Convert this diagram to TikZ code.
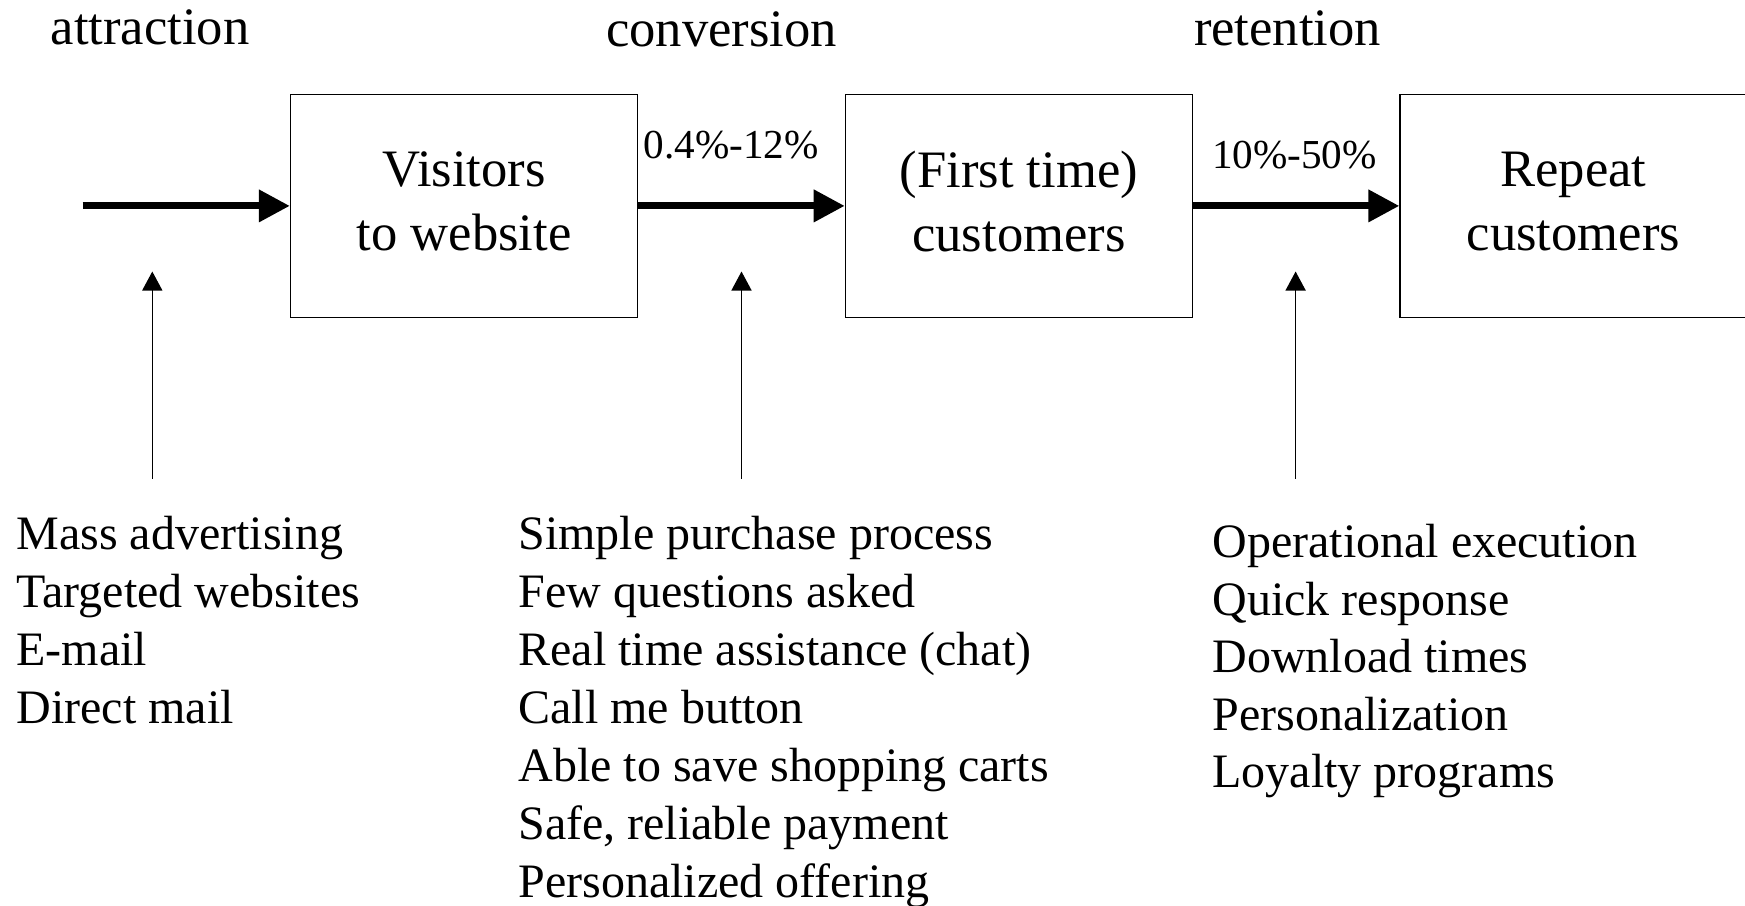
\documentclass[tikz,border=0pt]{standalone}
\usepackage{fontspec}
\setmainfont{Liberation Serif}
\usetikzlibrary{arrows.meta}

\begin{document}
\begin{tikzpicture}[x=0.5pt,y=-0.5pt,
  stage/.style={draw, line width=0.7pt, minimum width=173.5pt, minimum height=111.5pt,
    inner sep=0pt, align=center, text depth=4.7pt, font=\fontsize{26.3}{32}\selectfont},
  heading/.style={anchor=base, inner sep=0pt, font=\fontsize{26.3}{32}\selectfont},
  rate/.style={anchor=base west, inner sep=0pt, font=\fontsize{20.6}{24}\selectfont},
  item/.style={anchor=base west, inner sep=0pt, font=\fontsize{24}{29}\selectfont},
  flow/.style={line width=3.5pt, -{Triangle[length=15.5pt,width=15.5pt]}},
  driver/.style={line width=0.7pt, -{Triangle[length=9.5pt,width=10pt]}}]

\useasboundingbox (0,0) rectangle (1745,905);
\clip (0,0) rectangle (1745,905);

% stage headings
\node[heading] (hAtt) at (150,44) {attraction};
\node[heading] (hConv) at (721.7,46) {conversion};
\node[heading] (hRet) at (1287.5,45.7) {retention};

% funnel stages
\node[stage] (visitors) at (464,205.9) {Visitors\\to website};
\node[stage] (first) at (1018.9,205.9) {(First time)\\customers};
\node[stage] (rep) at (1573.5,205.9) {Repeat\\customers};

% main flow
\coordinate (entry) at (82.7,205.9);
\draw[flow] (entry) -- (visitors);
\draw[flow] (visitors) -- (first);
\draw[flow] (first) -- (rep);

% conversion rates
\node[rate] (r1) at (643.3,158.3) {0.4\%-12\%};
\node[rate] (r2) at (1211.7,168.3) {10\%-50\%};

% driver arrows
\coordinate (attFoot) at (152.3,478.7);
\coordinate (attTip) at (152.3,271.5);
\coordinate (convFoot) at (741.5,478.7);
\coordinate (convTip) at (741.5,271.5);
\coordinate (retFoot) at (1295.6,478.7);
\coordinate (retTip) at (1295.6,271.5);
\draw[driver] (attFoot) -- (attTip);
\draw[driver] (convFoot) -- (convTip);
\draw[driver] (retFoot) -- (retTip);

% driver lists
\foreach \t [count=\i from 0] in {Mass advertising,Targeted websites,E-mail,Direct mail}
  \node[item] (att\i) at (16,549.3+58*\i) {\t};
\foreach \t [count=\i from 0] in {Simple purchase process,Few questions asked,
    Real time assistance (chat),Call me button,Able to save shopping carts,
    {Safe, reliable payment},Personalized offering}
  \node[item] (conv\i) at (518,549.3+58*\i) {\t};
\foreach \t [count=\i from 0] in {Operational execution,Quick response,
    Download times,Personalization,Loyalty programs}
  \node[item] (ret\i) at (1212,557.5+57.6*\i) {\t};
\end{tikzpicture}
\end{document}
